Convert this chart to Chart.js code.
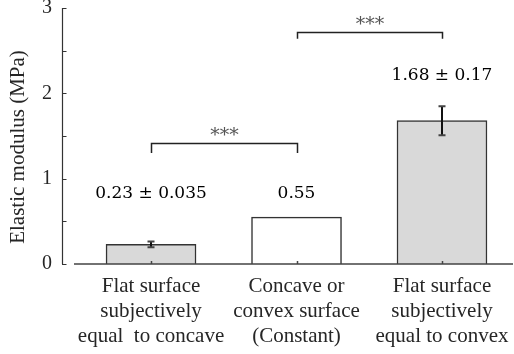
<!DOCTYPE html>
<html><head><meta charset="utf-8">
<script src="https://cdn.jsdelivr.net/npm/chart.js@4/dist/chart.umd.min.js"></script>
<style>html,body{margin:0;padding:0;background:#fff}#wrap{width:514px;height:354px;position:relative}</style>
</head><body><div id="wrap"><canvas id="c" width="514" height="354"></canvas></div>
<script>
const categories = [["Flat surface","subjectively","equal  to concave"],["Concave or","convex surface","(Constant)"],["Flat surface","subjectively","equal to convex"]];
const means = [0.23, 0.55, 1.68];
const sds = [0.035, 0, 0.17];
const valueLabels = ["0.23 \u00b1 0.035", "0.55", "1.68 \u00b1 0.17"];
const yTicks = [0, 0.5, 1, 1.5, 2, 2.5, 3];
const yLabelTicks = [0, 1, 2, 3];
const yTitle = "Elastic modulus (MPa)";
const comparisons = [{from:0, to:1, text:"***"}, {from:1, to:2, text:"***"}];

// placement of annotations (in y-axis units), kept out of the data
const labelAnchors = [0.773, 0.773, 2.156];
const bracketLevels = [{top:1.42, leg:1.30}, {top:2.72, leg:2.64}];

const axesPlugin = {
  id:'axesPlugin',
  afterDatasetsDraw(chart){
    const {ctx, chartArea:a, scales:{x, y}} = chart;
    ctx.save();
    ctx.strokeStyle = '#333'; ctx.lineWidth = 1.2;
    const y0 = y.getPixelForValue(0);
    ctx.beginPath();
    ctx.moveTo(a.left+0.5, y.getPixelForValue(3)); ctx.lineTo(a.left+0.5, y0);
    yTicks.forEach(v=>{ const p = Math.round(y.getPixelForValue(v))+0.5; ctx.moveTo(a.left, p); ctx.lineTo(a.left+4.5, p); });
    ctx.stroke();
    ctx.strokeStyle = '#444'; ctx.lineWidth = 1.5;
    ctx.beginPath();
    ctx.moveTo(a.left+12, y0); ctx.lineTo(a.right-1, y0);
    categories.forEach((_, i)=>{ const px = Math.round(x.getPixelForValue(i))+0.5; ctx.moveTo(px, y0); ctx.lineTo(px, y0-3); });
    ctx.stroke();
    // y-axis title
    ctx.translate(18, (a.top+a.bottom)/2 + 11);
    ctx.rotate(-Math.PI/2);
    ctx.fillStyle = '#262626';
    ctx.font = '21px "Liberation Serif"';
    ctx.textAlign = 'center'; ctx.textBaseline = 'middle';
    ctx.fillText(yTitle, 0, 0);
    ctx.restore();
  }
};

const errorPlugin = {
  id:'errorPlugin',
  afterDatasetsDraw(chart){
    const {ctx, scales:{x, y}} = chart;
    ctx.save();
    means.forEach((m, i)=>{
      if(!sds[i]) return;
      const px = Math.round(x.getPixelForValue(i));
      const t = y.getPixelForValue(m+sds[i]), b = y.getPixelForValue(m-sds[i]);
      ctx.strokeStyle = '#111'; ctx.lineWidth = 2;
      ctx.beginPath(); ctx.moveTo(px, t); ctx.lineTo(px, b); ctx.stroke();
      ctx.strokeStyle = '#444'; ctx.lineWidth = 2;
      ctx.beginPath();
      ctx.moveTo(px-3.5, t); ctx.lineTo(px+3.5, t);
      ctx.moveTo(px-3.5, b); ctx.lineTo(px+3.5, b);
      ctx.stroke();
    });
    ctx.restore();
  }
};

const annotPlugin = {
  id:'annotPlugin',
  afterDatasetsDraw(chart){
    const {ctx, scales:{x, y}} = chart;
    ctx.save();
    ctx.fillStyle = '#000';
    ctx.font = '17px "DejaVu Serif"';
    ctx.textAlign = 'center'; ctx.textBaseline = 'alphabetic';
    valueLabels.forEach((t, i)=>{ ctx.fillText(t, x.getPixelForValue(i), y.getPixelForValue(labelAnchors[i])); });
    comparisons.forEach((c, k)=>{
      const x1 = Math.round(x.getPixelForValue(c.from))+0.5, x2 = Math.round(x.getPixelForValue(c.to))+0.5;
      const yt = Math.round(y.getPixelForValue(bracketLevels[k].top))+0.5, yl = y.getPixelForValue(bracketLevels[k].leg);
      ctx.strokeStyle = '#222'; ctx.lineWidth = 1.5;
      ctx.beginPath(); ctx.moveTo(x1, yl); ctx.lineTo(x1, yt); ctx.lineTo(x2, yt); ctx.lineTo(x2, yl); ctx.stroke();
      ctx.fillStyle = '#555'; ctx.font = '19px "DejaVu Serif"';
      ctx.fillText(c.text, (x1+x2)/2, yt-3);
    });
    ctx.restore();
  }
};

new Chart(document.getElementById('c'), {
  type:'bar',
  data:{datasets:[{
    data: means.map((v, i)=>({x:i, y:v})),
    backgroundColor:['#d9d9d9','#ffffff','#d9d9d9'],
    borderColor:'#333', borderWidth:1.5, barThickness:90
  }]},
  options:{
    responsive:false, animation:false, devicePixelRatio:1,
    layout:{padding:{top:8, left:0, right:0, bottom:0}},
    plugins:{legend:{display:false}, tooltip:{enabled:false}},
    scales:{
      x:{type:'linear', min:-0.612, max:2.495, offset:false,
        grid:{display:false, drawTicks:false, offset:false}, border:{display:false},
        afterBuildTicks:s=>{ s.ticks = categories.map((_, i)=>({value:i})); },
        afterFit:s=>{ s.height = 90; s.paddingLeft = 0; s.paddingRight = 0; },
        ticks:{padding:10, autoSkip:false, maxRotation:0, minRotation:0,
          callback:v=>categories[v],
          font:{family:'Liberation Serif', size:21, lineHeight:25/21}, color:'#262626'}},
      y:{min:0, max:3,
        afterBuildTicks:s=>{ s.ticks = yTicks.map(v=>({value:v})); },
        afterFit:s=>{ s.width = 62; s.paddingTop = 0; s.paddingBottom = 0; },
        grid:{display:false, drawTicks:false}, border:{display:false},
        ticks:{padding:10, callback:v=>yLabelTicks.includes(v)?String(v):'',
          font:{family:'Liberation Serif', size:20}, color:'#262626'},
        title:{display:false}}
    }
  },
  plugins:[axesPlugin, errorPlugin, annotPlugin]
});
</script></body></html>
